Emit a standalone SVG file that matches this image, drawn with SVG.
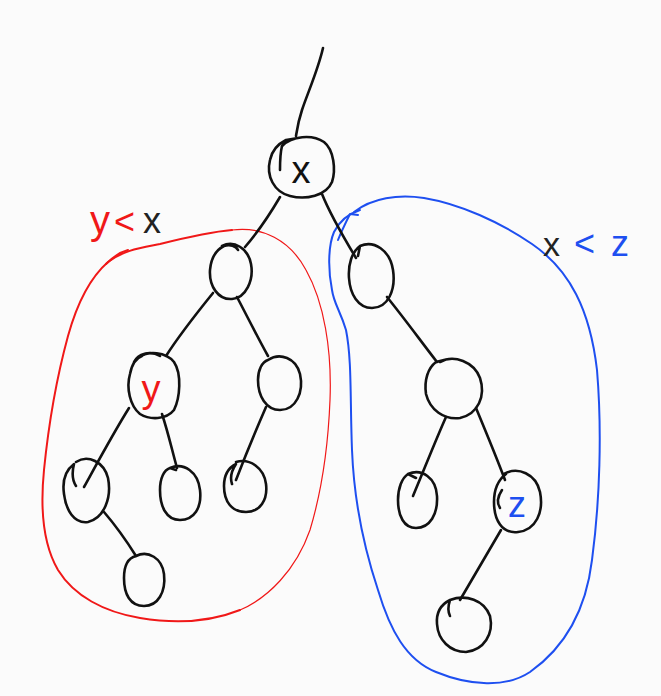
<svg xmlns="http://www.w3.org/2000/svg" width="661" height="696" viewBox="0 0 661 696">
  <style>
    .ink { fill: none; stroke: #111; stroke-width: 2.6; stroke-linecap: round; stroke-linejoin: round; }
    .red { fill: none; stroke: #f01818; stroke-linecap: round; stroke-linejoin: round; }
    .blue { fill: none; stroke: #1e4ff0; stroke-linecap: round; stroke-linejoin: round; }
    .lbl { font-family: "Liberation Sans", "DejaVu Sans", sans-serif; font-weight: normal; }
  </style>
  <rect width="661" height="696" fill="#fbfbfb"/>

  <!-- subtree outlines -->
  <g id="region-left">
    <!-- thinner stroke along the right-hand side -->
    <path class="red" stroke-width="1.2" d="M232 230 C262 226 290 240 306 270 C324 302 332 350 330 400 C328 450 322 490 310 530 C296 570 268 598 240 610"/>
    <!-- heavier stroke along the bottom and left -->
    <path class="red" stroke-width="2" d="M240 610 C210 622 176 624 140 618 C104 612 74 596 58 570 C44 546 40 510 44 470 C48 430 56 380 68 336 C78 300 92 276 108 262 C124 250 140 248 160 244 C184 238 208 232 232 230"/>
    <path class="red" stroke-width="2" d="M106 264 C114 256 120 252 128 250"/>
  </g>
  <g id="region-right">
    <path class="blue" stroke-width="2" d="M354 212 C372 198 398 194 424 198 C460 204 500 222 532 244 C570 270 590 310 597 370 C602 430 600 500 592 560 C586 610 564 648 530 672 C506 688 470 686 436 672 C406 660 390 630 378 590 C364 548 354 500 352 450 C350 400 352 360 346 330 C340 310 334 304 332 290 C328 270 328 246 334 232 C340 220 348 214 360 210"/>
    <path class="blue" stroke-width="2" d="M338 240 C342 230 346 222 350 214 L358 215"/>
  </g>

  <!-- connectors -->
  <g id="connectors">
    <path class="ink" d="M323 48 C318 70 308 92 302 110 C298 122 297 130 296 136"/>
    <path class="ink" d="M280 197 C270 214 258 232 245 247"/>
    <path class="ink" d="M322 194 C330 214 344 238 356 258"/>
    <path class="ink" d="M213 293 C196 314 180 334 166 356"/>
    <path class="ink" d="M237 297 C248 318 258 338 268 356"/>
    <path class="ink" d="M129 408 C114 432 100 458 84 487"/>
    <path class="ink" d="M162 414 C168 432 172 450 177 468"/>
    <path class="ink" d="M266 407 C256 430 246 454 236 480"/>
    <path class="ink" d="M104 512 C116 526 126 540 136 556"/>
    <path class="ink" d="M387 297 C404 318 420 340 437 362"/>
    <path class="ink" d="M446 417 C434 444 424 470 413 496"/>
    <path class="ink" d="M476 408 C486 432 496 456 505 480"/>
    <path class="ink" d="M501 530 C488 552 474 576 460 600"/>
  </g>

  <!-- nodes -->
  <g id="node-x">
    <path class="ink" d="M282 146 C292 136 312 134 324 142 C334 150 336 170 332 182 C326 196 306 200 290 196 C274 192 266 176 270 160 C272 150 278 144 286 140 L298 138"/>
    <path class="ink" d="M282 146 C280 154 280 162 280 170"/>
    <text class="lbl" x="301" y="183" font-size="38" fill="#111" text-anchor="middle">x</text>
  </g>
  <g id="node-a">
    <path class="ink" d="M222 246 C234 240 248 248 251 264 C254 280 246 298 232 299 C218 300 209 286 210 270 C211 258 216 250 224 246 C230 244 236 246 238 250"/>
  </g>
  <g id="node-b">
    <path class="ink" d="M360 246 C374 240 390 250 393 270 C396 290 388 308 372 308 C358 308 350 294 349 278 C348 264 352 252 360 246 L358 256"/>
  </g>
  <g id="node-y">
    <path class="ink" d="M138 358 C148 350 166 352 174 362 C182 374 180 398 174 410 C166 420 150 420 140 414 C130 406 126 388 130 374 C132 364 136 358 142 356"/>
    <path class="ink" d="M134 362 C138 354 150 350 160 356"/>
    <text class="lbl" x="151" y="402" font-size="38" fill="#f01818" text-anchor="middle">y</text>
  </g>
  <g id="node-c">
    <path class="ink" d="M268 360 C280 352 296 358 300 374 C304 392 296 410 280 410 C266 410 258 396 258 380 C258 370 262 362 268 360"/>
  </g>
  <g id="node-d">
    <path class="ink" d="M76 462 C88 454 104 462 108 478 C112 498 104 518 88 522 C74 524 66 510 64 494 C62 480 66 470 74 464 C72 472 72 480 76 486"/>
  </g>
  <g id="node-e">
    <path class="ink" d="M170 468 C184 462 198 472 200 490 C202 508 194 520 180 520 C166 520 160 506 160 490 C160 478 164 470 170 468 L176 470"/>
  </g>
  <g id="node-f">
    <path class="ink" d="M236 462 C250 458 264 468 266 484 C268 500 260 512 246 512 C232 512 224 502 224 486 C224 476 228 468 236 464 C232 470 230 478 232 484"/>
  </g>
  <g id="node-g">
    <path class="ink" d="M136 556 C148 550 162 558 164 574 C166 592 158 606 144 606 C130 606 124 594 124 578 C124 566 128 558 136 556"/>
  </g>
  <g id="node-h">
    <path class="ink" d="M440 362 C454 354 474 362 480 378 C486 396 478 414 460 418 C444 420 430 410 426 394 C424 380 428 368 436 362 L444 360"/>
  </g>
  <g id="node-i">
    <path class="ink" d="M408 474 C422 468 436 478 437 496 C438 514 430 528 416 528 C404 528 398 516 398 500 C398 488 402 478 408 474 L416 478"/>
  </g>
  <g id="node-z">
    <path class="ink" d="M504 474 C518 466 536 474 540 492 C544 512 536 530 518 532 C502 534 494 520 494 502 C494 490 498 480 506 474"/>
    <path class="ink" d="M502 490 C498 496 496 502 500 508"/>
    <text class="lbl" x="517" y="517" font-size="36" fill="#1e4ff0" text-anchor="middle">z</text>
  </g>
  <g id="node-j">
    <path class="ink" d="M450 600 C466 594 484 600 490 616 C494 634 484 650 466 652 C450 652 438 640 437 624 C436 612 442 604 450 600 C448 606 448 612 450 616"/>
  </g>

  <!-- ordering labels -->
  <g id="label-left">
    <text class="lbl" x="90" y="234" font-size="40" fill="#f01818">y</text>
    <text class="lbl" x="114" y="234" font-size="36" fill="#f01818">&lt;</text>
    <text class="lbl" x="143" y="233" font-size="36" fill="#222">x</text>
  </g>
  <g id="label-right">
    <text class="lbl" x="543" y="256" font-size="34" fill="#222">x</text>
    <text class="lbl" x="574" y="256" font-size="36" fill="#1e4ff0">&lt;</text>
    <text class="lbl" x="611" y="256" font-size="36" fill="#1e4ff0">z</text>
  </g>
</svg>
